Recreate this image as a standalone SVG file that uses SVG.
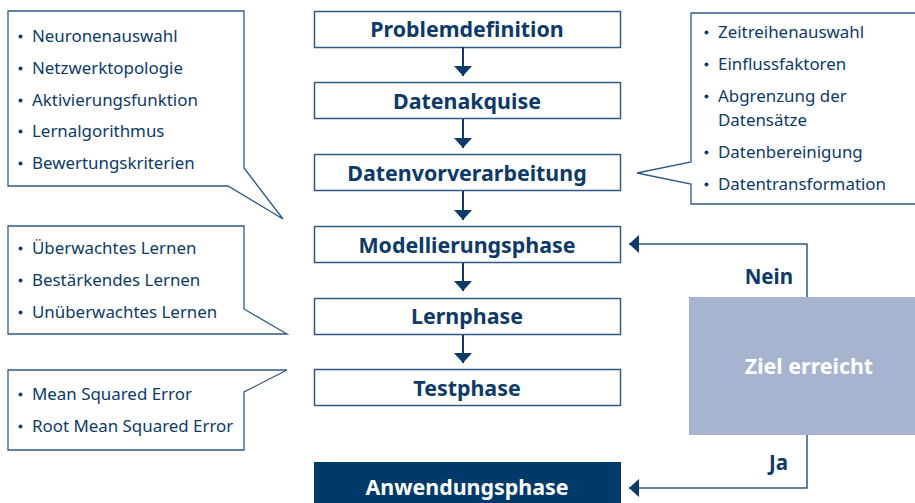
<svg xmlns="http://www.w3.org/2000/svg" width="915" height="503" viewBox="0 0 915 503">
<defs>
<style>
.box{fill:#ffffff;stroke:#2f5a85;stroke-width:1.5}
.callout{fill:#ffffff;stroke:#2f5a85;stroke-width:1.3}
.title{font-family:"Noto Sans","Liberation Sans",sans-serif;font-weight:bold;font-size:21.4px;fill:#0d3a68;text-anchor:middle}
.item{font-family:"Noto Sans","Liberation Sans",sans-serif;font-size:16.9px;fill:#0d3a68}
.bullet{fill:#0d3a68}
.flow{stroke:#0d3a68;stroke-width:2;fill:none}
.loop{stroke:#2f5a85;stroke-width:1.5;fill:none}
.lbl{font-family:"Noto Sans","Liberation Sans",sans-serif;font-weight:bold;font-size:20.5px;fill:#0d3a68}
</style>
<marker id="ah" viewBox="0 0 10 18" refX="10" refY="9" markerWidth="10" markerHeight="18" markerUnits="userSpaceOnUse" orient="auto">
<path d="M0,0 L10,9 L0,18 Z" fill="#0d3a68"/>
</marker>
</defs>

<g id="callout-modell">
<path class="callout" d="M8,11 H244 V168 L283,219 L228,186 H8 Z"/>
<g class="bullet"><circle cx="20.5" cy="36.5" r="2"/><circle cx="20.5" cy="68.5" r="2"/><circle cx="20.5" cy="100.5" r="2"/><circle cx="20.5" cy="131.5" r="2"/><circle cx="20.5" cy="163.5" r="2"/></g>
<text class="item" x="32" y="42">Neuronenauswahl</text>
<text class="item" x="32" y="74">Netzwerktopologie</text>
<text class="item" x="32" y="106">Aktivierungsfunktion</text>
<text class="item" x="32" y="137">Lernalgorithmus</text>
<text class="item" x="32" y="169">Bewertungskriterien</text>
</g>

<g id="callout-lern">
<path class="callout" d="M8,226 H244 V309 L287,334 H8 Z"/>
<g class="bullet"><circle cx="20.5" cy="248.5" r="2"/><circle cx="20.5" cy="280.5" r="2"/><circle cx="20.5" cy="312.5" r="2"/></g>
<text class="item" x="32" y="254">Überwachtes Lernen</text>
<text class="item" x="32" y="286">Bestärkendes Lernen</text>
<text class="item" x="32" y="318">Unüberwachtes Lernen</text>
</g>

<g id="callout-test">
<path class="callout" d="M8,370 H287 L244,392 V450 H8 Z"/>
<g class="bullet"><circle cx="20.5" cy="394.5" r="2"/><circle cx="20.5" cy="426.5" r="2"/></g>
<text class="item" x="32" y="400">Mean Squared Error</text>
<text class="item" x="32" y="432">Root Mean Squared Error</text>
</g>

<g id="callout-daten">
<path class="callout" d="M691,13 H925 V204 H691 V184 L637,173 L691,162 Z"/>
<g class="bullet"><circle cx="706.5" cy="32.5" r="2"/><circle cx="706.5" cy="64.5" r="2"/><circle cx="706.5" cy="96.5" r="2"/><circle cx="706.5" cy="152.5" r="2"/><circle cx="706.5" cy="184.5" r="2"/></g>
<text class="item" x="718" y="38">Zeitreihenauswahl</text>
<text class="item" x="718" y="70">Einflussfaktoren</text>
<text class="item" x="718" y="102">Abgrenzung der</text>
<text class="item" x="718" y="126">Datensätze</text>
<text class="item" x="718" y="158">Datenbereinigung</text>
<text class="item" x="718" y="190">Datentransformation</text>
</g>

<g id="n1"><rect class="box" x="314.5" y="11.5" width="306" height="36"/><text class="title" x="467" y="37">Problemdefinition</text></g>
<g id="n2"><rect class="box" x="314.5" y="82.5" width="306" height="36"/><text class="title" x="467" y="109">Datenakquise</text></g>
<g id="n3"><rect class="box" x="314.5" y="154.5" width="306" height="36"/><text class="title" x="467" y="181">Datenvorverarbeitung</text></g>
<g id="n4"><rect class="box" x="314.5" y="226.5" width="306" height="36"/><text class="title" x="467" y="253">Modellierungsphase</text></g>
<g id="n5"><rect class="box" x="314.5" y="298.5" width="306" height="36"/><text class="title" x="467" y="324">Lernphase</text></g>
<g id="n6"><rect class="box" x="314.5" y="369.5" width="306" height="36"/><text class="title" x="467" y="396">Testphase</text></g>
<g id="n7"><rect x="314" y="462" width="307" height="45" fill="#003a6b"/><text class="title" x="467" y="495" style="fill:#ffffff">Anwendungsphase</text></g>
<g id="n8"><rect x="689" y="297" width="230" height="138" fill="#a6b4cf"/><text class="title" x="809" y="374" style="fill:#ffffff">Ziel erreicht</text></g>

<g id="connectors">
<line class="flow" x1="463" y1="47" x2="463" y2="76" marker-end="url(#ah)"/>
<line class="flow" x1="463" y1="119" x2="463" y2="148" marker-end="url(#ah)"/>
<line class="flow" x1="463" y1="191" x2="463" y2="220" marker-end="url(#ah)"/>
<line class="flow" x1="463" y1="263" x2="463" y2="291" marker-end="url(#ah)"/>
<line class="flow" x1="463" y1="335" x2="463" y2="363" marker-end="url(#ah)"/>
<polyline class="loop" points="807,297 807,244 629,244" marker-end="url(#ah)"/>
<polyline class="loop" points="807,435 807,488 629,488" marker-end="url(#ah)"/>
<text class="lbl" x="793" y="284" text-anchor="end">Nein</text>
<text class="lbl" x="788" y="470" text-anchor="end">Ja</text>
</g>
</svg>
